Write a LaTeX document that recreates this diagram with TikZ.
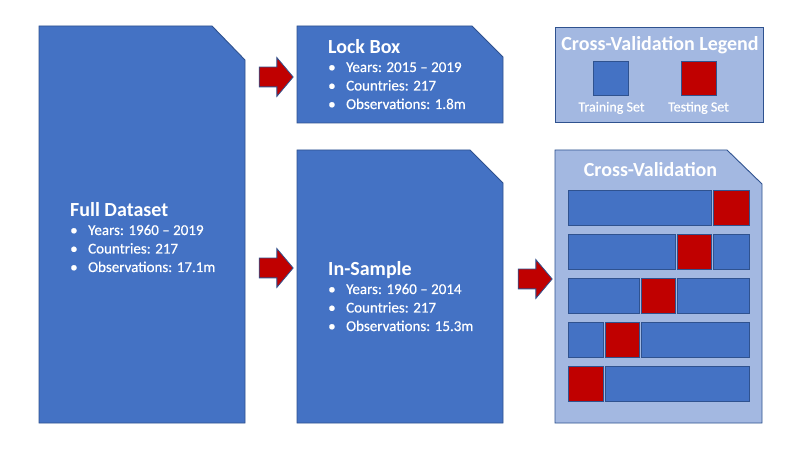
\documentclass[tikz,border=0pt]{standalone}
\usepackage{fontspec}
\setmainfont{Carlito}
\newfontfamily\bodyfont{Carlito}[BoldFont=Carlito,BoldFeatures={FakeBold=0.5}]
\usetikzlibrary{shapes.arrows}
\definecolor{boxblue}{HTML}{4472C4}
\definecolor{edgeblue}{HTML}{2F528F}
\definecolor{paleblue}{HTML}{A3B8E1}
\definecolor{testred}{HTML}{C00000}

% a titled block of three bullet points, anchored at the title baseline
\newcommand\infoblock[7]{%
  \node[heading,anchor=base west] (#1-title) at (#2,#3) {#4};
  \node[item] (#1-a) at (#2,#3+18.5) {\makebox[18bp][l]{\textbullet}#5};
  \node[item] (#1-b) at (#2,#3+37) {\makebox[18bp][l]{\textbullet}#6};
  \node[item] (#1-c) at (#2,#3+55.5) {\makebox[18bp][l]{\textbullet}#7};
}

\begin{document}
\begin{tikzpicture}[x=1bp,y=-1bp,
  panel/.style={fill=boxblue,draw=edgeblue,line width=0.9bp},
  palepanel/.style={fill=paleblue,draw=edgeblue,line width=0.9bp},
  trainbox/.style={fill=boxblue,draw=edgeblue,line width=0.8bp},
  testbox/.style={fill=testred,draw=edgeblue,line width=0.8bp},
  flowarrow/.style={single arrow,fill=testred,draw=edgeblue,line width=0.8bp,
    minimum height=34bp,inner xsep=0pt,inner ysep=9.5bp,
    single arrow head extend=9.5bp,single arrow tip angle=100},
  heading/.style={text=white,font=\fontsize{20bp}{24bp}\selectfont\bfseries,inner sep=0pt},
  item/.style={text=white,font=\fontsize{15bp}{18bp}\bodyfont\bfseries,inner sep=0pt,anchor=base west},
  caption/.style={text=white,font=\fontsize{14bp}{17bp}\bodyfont\bfseries,inner sep=0pt,anchor=base}]

\useasboundingbox (0,0) rectangle (800,450);
\fill[white] (0,0) rectangle (800,450);

% data panels with a clipped top-right corner
\draw[panel] (39,26) -- (212,26) -- (245,60) -- (245,423) -- (39,423) -- cycle;
\draw[panel] (297,26) -- (472,26) -- (503,57) -- (503,123) -- (297,123) -- cycle;
\draw[panel] (297,150) -- (470,150) -- (503,183) -- (503,423) -- (297,423) -- cycle;

\infoblock{full}{70}{216.5}{Full Dataset}{Years: 1960 – 2019}{Countries: 217}{Observations: 17.1m}
\infoblock{lock}{328}{53.5}{Lock Box}{Years: 2015 – 2019}{Countries: 217}{Observations: 1.8m}
\infoblock{insample}{328}{275.5}{In-Sample}{Years: 1960 – 2014}{Countries: 217}{Observations: 15.3m}

% legend
\draw[palepanel] (555,27) rectangle (763,122);
\node[heading,anchor=base] (legend-title) at (660,50.5) {Cross-Validation Legend};
\draw[trainbox] (593,61) rectangle (628,95.5);
\draw[testbox] (681,61) rectangle (716,95.5);
\node[caption] (legend-train) at (611.5,111.5) {Training Set};
\node[caption] (legend-test) at (698.5,111.5) {Testing Set};

% cross-validation folds
\draw[palepanel] (555,150) -- (727,150) -- (762,184) -- (762,423) -- (555,423) -- cycle;
\node[heading,anchor=base] (cv-title) at (650.5,176.5) {Cross-Validation};
\foreach \r in {0,...,4}{
  \pgfmathsetmacro\rowtop{190.5+43.9*\r}
  \pgfmathsetmacro\rowbot{\rowtop+35}
  \pgfmathtruncatemacro\k{4-\r}
  \pgfmathsetmacro\bl{568+36.2*\k}
  \pgfmathsetmacro\br{\bl+36.2}
  \pgfmathsetmacro\redl{\k==0 ? 568 : \bl+1}
  \pgfmathsetmacro\redr{\k==4 ? 749 : \br-1}
  \ifnum\k>0 \draw[trainbox] (568,\rowtop) rectangle (\bl-1,\rowbot); \fi
  \ifnum\k<4 \draw[trainbox] (\br+1,\rowtop) rectangle (749,\rowbot); \fi
  \draw[testbox] (\redl,\rowtop) rectangle (\redr,\rowbot);
}

% flow arrows between panels
\node[flowarrow] (to-lock) at (272,77) {};
\node[flowarrow] (to-insample) at (272,268) {};
\node[flowarrow] (to-cv) at (531,279) {};
\end{tikzpicture}
\end{document}
